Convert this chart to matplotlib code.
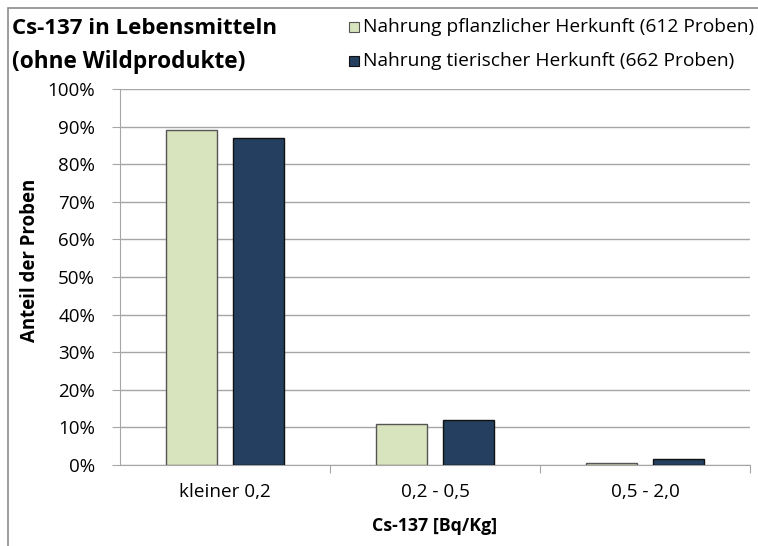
import matplotlib
matplotlib.use("Agg")
import matplotlib.pyplot as plt
import numpy as np
from matplotlib.patches import Rectangle

categories = ["kleiner 0,2", "0,2 - 0,5", "0,5 - 2,0"]
plant = [89.0, 10.8, 0.45]
animal = [87.0, 12.0, 1.5]
series_names = ["Nahrung pflanzlicher Herkunft (612 Proben)",
                "Nahrung tierischer Herkunft (662 Proben)"]
yticks = list(range(0, 101, 10))

plt.rcParams['font.family'] = ['Open Sans', 'DejaVu Sans']

W, H = 758, 546
fig = plt.figure(figsize=(W/100, H/100), dpi=100)
ax = fig.add_axes([120/W, 1-465/H, 630/W, (465-89)/H])

x = np.arange(len(categories))
bw = 0.245
c_plant = "#d7e4bd"
c_animal = "#243f60"
ax.bar(x-0.16, plant, bw, color=c_plant, edgecolor="#555555", linewidth=1.0, zorder=3)
ax.bar(x+0.16, animal, bw, color=c_animal, edgecolor="#111111", linewidth=1.0, zorder=3)

ax.set_xlim(-0.5, 2.5)
ax.set_ylim(0, 100)
ax.set_yticks(yticks)
ax.set_yticklabels([f"{v}%" for v in yticks], fontsize=13.5)
ax.yaxis.grid(True, color="#a6a6a6", linewidth=1.0, zorder=0)
ax.set_xticks([0.5, 1.5, 2.5], minor=False)
ax.set_xticklabels([])
ax.set_xticks(x, minor=True)
ax.set_xticklabels(categories, minor=True, fontsize=13.6)
ax.tick_params(axis='x', which='minor', length=0, pad=13)
ax.tick_params(axis='x', which='major', length=6, color="#a6a6a6")
ax.tick_params(axis='y', length=6, color="#a6a6a6", pad=12)
for s in ['top', 'right']:
    ax.spines[s].set_visible(False)
for s in ['left', 'bottom']:
    ax.spines[s].set_color("#a6a6a6")

fig.text(30/W, 1-260/H, "Anteil der Proben", rotation=90, fontsize=13.4,
         fontweight='bold', ha='center', va='center')
fig.text(435/W, 1-526/H, "Cs-137 [Bq/Kg]", fontsize=12.8, fontweight='bold',
         ha='center', va='center')
fig.text(12/W, 1-28/H, "Cs-137 in Lebensmitteln", fontsize=16, fontweight='bold',
         ha='left', va='center')
fig.text(12/W, 1-62/H, "(ohne Wildprodukte)", fontsize=16.3, fontweight='bold',
         ha='left', va='center')

for i, (name, col, ec) in enumerate(zip(series_names, [c_plant, c_animal], ["#555555", "#111111"])):
    yc = 27 + 34*i
    fig.patches.append(Rectangle((349/W, 1-(yc+5)/H), 10/W, 10/H, transform=fig.transFigure,
                                 facecolor=col, edgecolor=ec, linewidth=0.8))
    fig.text(363/W, 1-yc/H, name, fontsize=13.8, ha='left', va='center')

fig.patches.append(Rectangle((8/W, -0.05), 1.0, 1-8/H+0.05, transform=fig.transFigure,
                             facecolor='none', edgecolor="#8c8c8c", linewidth=1.2))

fig.savefig("out.png", dpi=100)
